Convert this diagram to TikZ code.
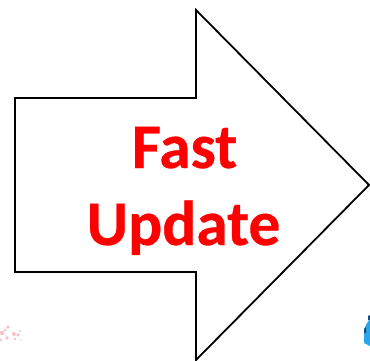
\documentclass[tikz,border=0pt]{standalone}
\usepackage{fontspec}
\setmainfont[BoldFeatures={FakeBold=0.5}]{Carlito}
\definecolor{arrowred}{RGB}{255,0,0}
\definecolor{speckblue}{RGB}{40,165,235}
\definecolor{speckdark}{RGB}{25,75,120}
\definecolor{speckpink}{RGB}{245,175,185}
\tikzset{
  bigarrow/.style={draw=black,line width=1.8pt,miter limit=10,fill=white},
  biglabel/.style={text=arrowred,font=\bfseries\fontsize{63.5}{63.5}\selectfont,inner sep=0pt,anchor=base},
  speck/.style={fill=speckpink,draw=none,opacity=0.8}
}
\begin{document}
\begin{tikzpicture}[x=1pt,y=-1pt]
\useasboundingbox (0,0) rectangle (370,361);
\draw[bigarrow] (15,98) -- (196,98) -- (196,10) -- (369,185) -- (196,360) -- (196,272) -- (15,272) -- cycle;
\node[biglabel] (fast) at (184.5,168) {Fast};
\node[biglabel] (update) at (183.5,245) {Update};
% faint speckles, bottom left
\foreach \px/\py/\r in {2/333/2.2,8/327/1.8,7/338/1.8,14/334/2.0,15/339/1.4,20/331/1.2,1/340/1.4,18/335/1.8,5/330/1.5,21/340/0.8}{
  \fill[speck] (\px,\py) circle[radius=\r];
}
% cropped blue shape, bottom right
\fill[speckblue] (370,319) -- (367,323) -- (364,329) -- (364,343) -- (370,346) -- cycle;
\fill[speckdark] (370,315) -- (368,316) -- (368,320) -- (370,320) -- cycle;
\fill[speckdark] (364,329) -- (366,327) -- (366,333) -- (364,333) -- cycle;
\end{tikzpicture}
\end{document}
